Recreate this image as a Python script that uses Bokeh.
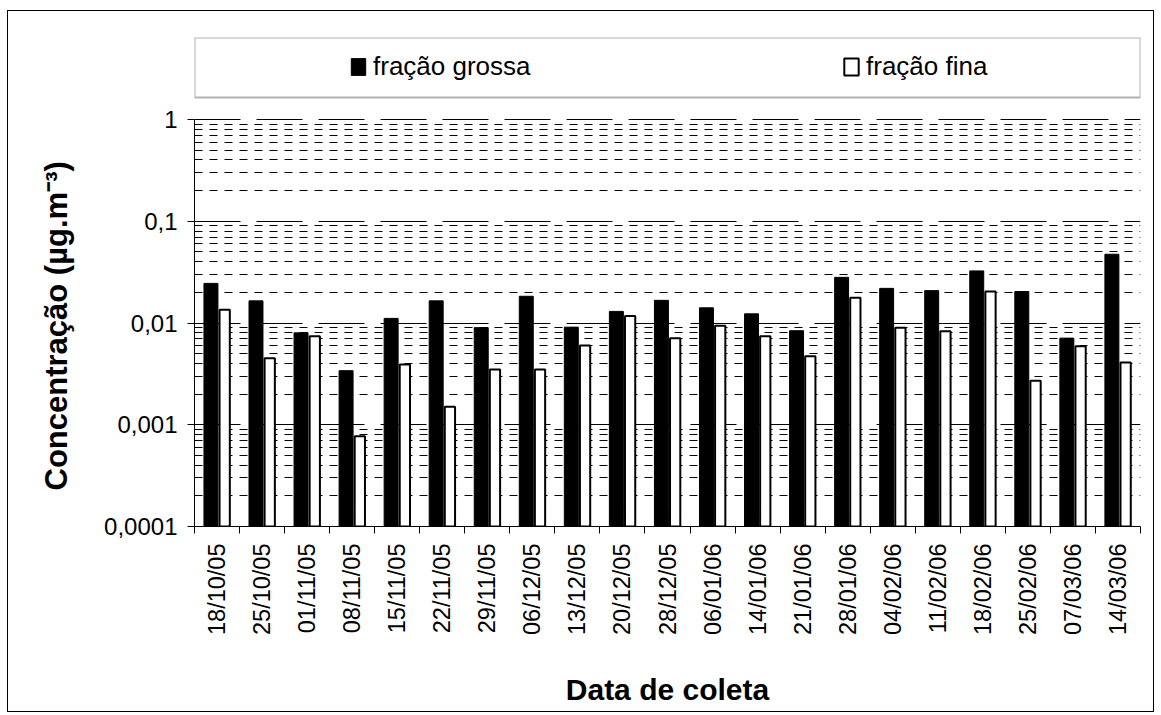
import numpy as np
from bokeh.plotting import figure
from bokeh.models import (ColumnDataSource, Range1d, FixedTicker, CustomJSTickFormatter,
                          Legend, LegendItem, BoxAnnotation, Title)
from bokeh.transform import dodge
from bokeh.embed import file_html
from bokeh.resources import INLINE

# ---- data ----
dates = ["18/10/05", "25/10/05", "01/11/05", "08/11/05", "15/11/05", "22/11/05", "29/11/05",
         "06/12/05", "13/12/05", "20/12/05", "28/12/05", "06/01/06", "14/01/06", "21/01/06",
         "28/01/06", "04/02/06", "11/02/06", "18/02/06", "25/02/06", "07/03/06", "14/03/06"]
fracao_grossa = [0.0245, 0.0165, 0.0080, 0.0034, 0.0111, 0.0165, 0.0090, 0.0183, 0.0091, 0.0130,
                 0.0167, 0.0141, 0.0123, 0.0084, 0.0281, 0.0219, 0.0208, 0.0325, 0.0204, 0.0071, 0.0474]
fracao_fina = [0.0135, 0.0045, 0.0074, 0.00077, 0.0039, 0.0015, 0.0035, 0.0035, 0.0060, 0.0117,
               0.0071, 0.0094, 0.0074, 0.0047, 0.0177, 0.0090, 0.0083, 0.0204, 0.0027, 0.0059, 0.0041]
series_names = ["fração grossa", "fração fina"]
y_ticks = [0.0001, 0.001, 0.01, 0.1, 1]
y_tick_labels = ["0,0001", "0,001", "0,01", "0,1", "1"]
y_title = "Concentração (µg.m⁻³)"
x_title = "Data de coleta"

FONT = "Liberation Sans"
n = len(dates)
src = ColumnDataSource(dict(x=np.arange(n) + 0.5, date=dates,
                            grossa=fracao_grossa, fina=fracao_fina))

# layout constants (pixels)
W, H = 1147, 702
DECADE_PX = 101.75          # height of one decade on the log axis
LEG_TOP_PX = 82             # legend box top above the y=1 line
LEG_BOT_PX = 22             # legend box bottom above the y=1 line
y_top = y_ticks[-1] * 10 ** (LEG_TOP_PX / DECADE_PX)
leg_bottom = y_ticks[-1] * 10 ** (LEG_BOT_PX / DECADE_PX)

p = figure(width=W, height=H, x_range=Range1d(0, n), y_range=Range1d(y_ticks[0], y_top),
           y_axis_type="log", output_backend="svg", toolbar_location=None,
           min_border_left=185, min_border_right=15, min_border_top=26, min_border_bottom=187)
p.outline_line_color = None
p.background_fill_color = "white"
p.border_fill_color = "white"
p.styles = {"border": "1px solid black", "margin-left": "7px", "margin-top": "10px"}

r1 = p.vbar(x=dodge("x", -0.135), top="grossa", bottom=y_ticks[0], width=0.31, source=src,
            fill_color="black", line_color="black", line_width=1)
r2 = p.vbar(x=dodge("x", 0.17), top="fina", bottom=y_ticks[0], width=0.228, source=src,
            fill_color="white", line_color="black", line_width=2)

# y axis
minor = [m * t for t in y_ticks[:-1] for m in range(2, 10)]
yt = FixedTicker(ticks=y_ticks, minor_ticks=minor)
p.yaxis.ticker = yt
p.ygrid.ticker = yt
p.yaxis.bounds = (y_ticks[0], y_ticks[-1])
p.yaxis.formatter = CustomJSTickFormatter(args=dict(tvals=y_ticks, tlabels=y_tick_labels), code="""
let best = 0, bd = Infinity;
for (let i = 0; i < tvals.length; i++) {
  const d = Math.abs(Math.log10(tvals[i]) - Math.log10(tick));
  if (d < bd) { bd = d; best = i; }
}
return tlabels[best];
""")
p.yaxis.major_tick_out = 7
p.yaxis.major_tick_in = 0
p.yaxis.minor_tick_out = 0
p.yaxis.minor_tick_in = 0
p.yaxis.major_label_standoff = 10
p.yaxis.major_label_text_font = FONT
p.yaxis.major_label_text_font_size = "24px"
p.yaxis.major_label_text_color = "black"
p.yaxis.axis_line_color = "black"

# y title (placed beside the axis, aligned with the decades region)
p.add_layout(Title(text=y_title, align="left", offset=36, standoff=56,
                   text_font=FONT, text_font_size="31px", text_font_style="bold",
                   text_color="black"), "left")

# x axis
xt = FixedTicker(ticks=list(np.arange(n) + 0.5), minor_ticks=list(range(n + 1)))
p.xaxis.ticker = xt
p.xaxis.formatter = CustomJSTickFormatter(args=dict(dlabels=dates),
                                          code="return dlabels[Math.floor(tick)] || '';")
p.xaxis.major_label_orientation = np.pi / 2
p.xaxis.major_tick_out = 0
p.xaxis.major_tick_in = 0
p.xaxis.minor_tick_out = 7
p.xaxis.minor_tick_in = 0
p.xaxis.major_label_standoff = 10
p.xaxis.major_label_text_font = FONT
p.xaxis.major_label_text_font_size = "23.5px"
p.xaxis.major_label_text_color = "black"
p.xaxis.axis_label = x_title
p.xaxis.axis_label_text_font = FONT
p.xaxis.axis_label_text_font_style = "bold"
p.xaxis.axis_label_text_font_size = "30px"
p.xaxis.axis_label_text_color = "black"
p.xaxis.axis_label_standoff = 35
p.xaxis.axis_line_color = "black"

# grid
p.xgrid.visible = False
p.ygrid.grid_line_color = "black"
p.ygrid.grid_line_dash = "46 16"
p.ygrid.grid_line_width = 1
p.ygrid.minor_grid_line_color = "black"
p.ygrid.minor_grid_line_dash = "8 7"
p.ygrid.minor_grid_line_width = 1

# legend box + legend
p.add_layout(BoxAnnotation(bottom=leg_bottom, fill_alpha=0, line_color="black", line_width=2))
legend = Legend(items=[LegendItem(label=series_names[0], renderers=[r1]),
                       LegendItem(label=series_names[1], renderers=[r2])],
                orientation="horizontal", location=(155, 444),
                border_line_color=None, background_fill_alpha=0,
                padding=0, margin=0, spacing=309,
                glyph_width=18, glyph_height=21, label_standoff=6, label_width=160,
                label_text_font=FONT, label_text_font_size="26px", label_text_color="black")
p.add_layout(legend, "center")

open("out.html", "w").write(file_html(p, INLINE))
